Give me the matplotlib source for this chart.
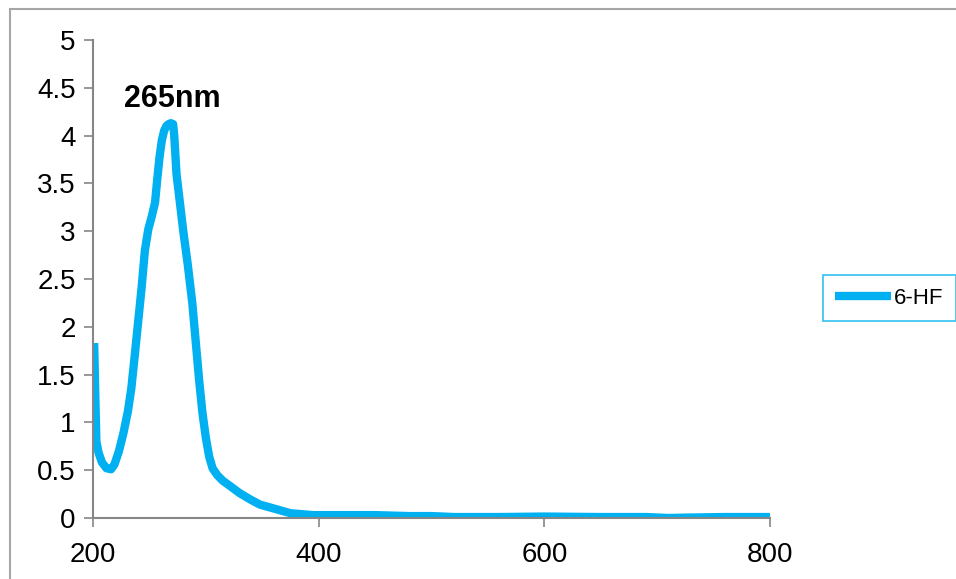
import matplotlib.pyplot as plt
from matplotlib.patches import Rectangle

plt.rcParams['font.family'] = ['Liberation Sans', 'DejaVu Sans']

# wavelength (nm) and absorbance
wavelength = [201, 202, 203, 205, 208, 212, 216, 219, 223, 227, 231, 234, 237, 240, 243,
              246, 249, 252, 255, 257, 259, 261, 263, 265, 267, 269, 271, 272, 274,
              277, 280, 284, 288, 291, 294, 297, 300, 303, 306, 310, 315, 322, 330,
              340, 348, 360, 375, 395, 420, 450, 480, 500, 520, 560, 600, 650, 690,
              710, 730, 760, 800]
absorbance = [1.83, 1.3, 0.80, 0.68, 0.58, 0.52, 0.51, 0.56, 0.70, 0.89, 1.12, 1.36, 1.70, 2.05, 2.40,
              2.80, 3.02, 3.15, 3.30, 3.55, 3.78, 3.95, 4.05, 4.10, 4.12, 4.13, 4.12, 4.00, 3.60,
              3.30, 3.00, 2.65, 2.25, 1.85, 1.45, 1.10, 0.84, 0.64, 0.52, 0.45, 0.39, 0.33, 0.26,
              0.19, 0.14, 0.10, 0.05, 0.03, 0.03, 0.03, 0.02, 0.02, 0.01, 0.01, 0.015, 0.01, 0.01,
              0.0, 0.005, 0.01, 0.01]

xticks = [200, 400, 600, 800]
yticks = [0, 0.5, 1, 1.5, 2, 2.5, 3, 3.5, 4, 4.5, 5]
ylabels = ['0', '0.5', '1', '1.5', '2', '2.5', '3', '3.5', '4', '4.5', '5']

blue = '#00B0F0'
grey = '#868686'

fig = plt.figure(figsize=(9.56, 5.79), dpi=100)
ax = fig.add_axes([93 / 956, 61 / 579, 677 / 956, 478 / 579])

# chart border (cut by the edge of the picture)
fig.patches.append(Rectangle((10 / 956, -0.1), 1.2, 0.1 + 570 / 579,
                             transform=fig.transFigure, fill=False,
                             edgecolor='#A6A6A6', linewidth=1.5))

ax.plot(wavelength, absorbance, color=blue, linewidth=6,
        solid_capstyle='butt', solid_joinstyle='round', label='6-HF')

ax.set_xlim(200, 800)
ax.set_ylim(0, 5)
ax.set_xticks(xticks)
ax.set_yticks(yticks)
ax.set_yticklabels(ylabels)
ax.tick_params(direction='out', length=6.5, width=1.2, color=grey,
               labelsize=20, pad=6)
ax.tick_params(axis='x', pad=11)

for s in ['top', 'right']:
    ax.spines[s].set_visible(False)
for s in ['left', 'bottom']:
    ax.spines[s].set_color(grey)
    ax.spines[s].set_linewidth(1.5)

ax.text(270, 4.38, '265nm', fontsize=22, fontweight='bold',
        ha='center', va='center')

leg = ax.legend(loc='center left', bbox_to_anchor=(823 / 956, (579 - 298) / 579),
                bbox_transform=fig.transFigure, fontsize=16,
                frameon=True, fancybox=False, handlelength=2.5,
                handletextpad=0.15, borderpad=0.55, borderaxespad=0)
leg.get_frame().set_edgecolor(blue)
leg.get_frame().set_linewidth(1.2)

fig.savefig('out.png', dpi=100)
